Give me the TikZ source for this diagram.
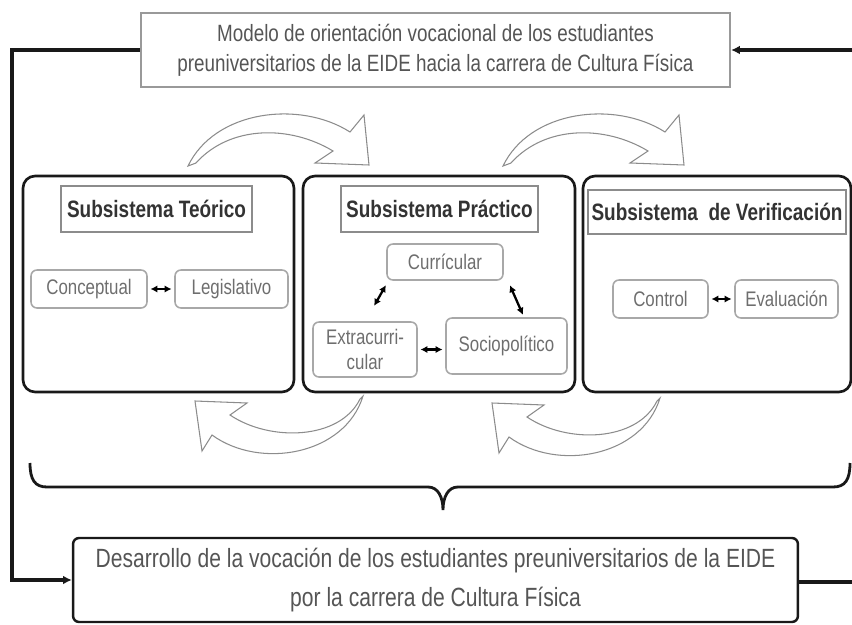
\documentclass[tikz,border=0pt]{standalone}
\usepackage{fontspec}
\setmainfont{Liberation Sans}[FakeStretch=0.8]
\usetikzlibrary{arrows.meta}
\definecolor{txtgray}{HTML}{555555}
\definecolor{itemgray}{HTML}{6E6E6E}
\definecolor{linegray}{HTML}{A8A8A8}
\begin{document}
\begin{tikzpicture}[x=0.02cm, y=-0.02cm,
    bigbox/.style={draw=black!90, line width=1.5pt, rounded corners=0.24cm, minimum height=4.32cm},
    headbox/.style={draw=black!45, line width=1.1pt, font=\fontsize{13.5}{16}\selectfont\bfseries, text=black!80, inner sep=0pt},
    itembox/.style={draw=linegray, line width=0.9pt, rounded corners=0.12cm, font=\fontsize{12}{14}\selectfont, text=itemgray, align=center, inner sep=0pt},
    dblarrow/.style={{Latex[length=4pt,width=4.2pt]}-{Latex[length=4pt,width=4.2pt]}, line width=1.3pt, shorten <=1.5pt, shorten >=1.5pt},
    flow/.style={line width=1.9pt, black!90},
    blockarrow/.style={draw=black!45, line width=0.6pt, fill=white, line join=miter}]
    \useasboundingbox (0,0) rectangle (852,625);

    % Model box at the top and result box at the bottom
    \node[draw=black!40, line width=1.3pt, minimum width=11.78cm, minimum height=1.48cm, align=center,
          text=txtgray, font=\fontsize{13.4}{17}\selectfont] (modelo) at (435.5,50)
        {Modelo de orientación vocacional de los estudiantes\\preuniversitarios de la EIDE hacia la carrera de Cultura Física};
    \node[draw=black!90, line width=1.4pt, rounded corners=0.12cm, minimum width=14.5cm, minimum height=1.68cm, align=center,
          text=txtgray, font=\fontsize{15}{22.5}\selectfont] (desarrollo) at (435.5,580)
        {Desarrollo de la vocación de los estudiantes preuniversitarios de la EIDE\\por la carrera de Cultura Física};

    % The three subsystems
    \node[bigbox, minimum width=5.42cm] (teorico) at (158.5,284) {};
    \node[bigbox, minimum width=5.44cm] (practico) at (439,284) {};
    \node[bigbox, minimum width=5.36cm] (verif) at (717,284) {};

    % Titles of the subsystems
    \node[headbox, minimum width=3.82cm, minimum height=0.92cm] (hteo) at (156.5,209) {Subsistema Teórico};
    \node[headbox, minimum width=3.94cm, minimum height=0.92cm] (hpra) at (439.5,209) {Subsistema Práctico};
    \node[headbox, minimum width=5.16cm, minimum height=0.88cm] (hver) at (717,212) {Subsistema \ de Verificación};

    % Components of each subsystem
    \node[itembox, minimum width=2.32cm, minimum height=0.76cm] (concep) at (89,289) {Conceptual};
    \node[itembox, minimum width=2.26cm, minimum height=0.76cm] (legis) at (231.5,289) {Legislativo};
    \node[itembox, minimum width=2.32cm, minimum height=0.72cm] (curri) at (445,262) {Currícular};
    \node[itembox, minimum width=2.08cm, minimum height=1.1cm] (extra) at (365,349.5) {Extracurri-\\cular};
    \node[itembox, minimum width=2.42cm, minimum height=1.12cm] (socio) at (506.5,346) {Sociopolítico};
    \node[itembox, minimum width=1.9cm, minimum height=0.76cm] (ctrl) at (660.5,299) {Control};
    \node[itembox, minimum width=2.06cm, minimum height=0.76cm] (evalu) at (786.5,299) {Evaluación};

    % Relations between the components
    \draw[dblarrow] (concep) -- (legis);
    \draw[dblarrow] ([shift={(1,2)}]curri.south west) -- ([shift={(-45,-13)}]extra.north east);
    \draw[dblarrow] ([shift={(5,2)}]curri.south east) -- ([xshift=0.35cm]socio.north);
    \draw[dblarrow] (extra.east) -- (extra.east -| socio.west);
    \draw[dblarrow] (ctrl) -- (evalu);

    % Curved arrows above and below the subsystems
    \draw[blockarrow] (188,166) .. controls (215,110) and (300,100) .. (350,132) -- (364,115) -- (369,165)
        -- (315,163) -- (333,151) .. controls (290,125) and (230,125) .. (196,163) -- cycle;
    \draw[blockarrow, shift={(315,0)}] (188,166) .. controls (215,110) and (300,100) .. (350,132) -- (364,115) -- (369,165)
        -- (315,163) -- (333,151) .. controls (290,125) and (230,125) .. (196,163) -- cycle;
    \draw[blockarrow] (363,396) .. controls (345,455) and (260,470) .. (212,435) -- (202,451) -- (195,401)
        -- (247,403) -- (230,415) .. controls (270,442) and (340,440) .. (360,399) -- cycle;
    \draw[blockarrow, shift={(297,2)}] (363,396) .. controls (345,455) and (260,470) .. (212,435) -- (202,451) -- (195,401)
        -- (247,403) -- (230,415) .. controls (270,442) and (340,440) .. (360,399) -- cycle;

    % Brace that joins the subsystems
    \draw[flow, line width=1.6pt] (30,463) .. controls (30,480) and (35,487) .. (47,487) -- (428,487)
        .. controls (438,487) and (443,497) .. (443,510) .. controls (443,497) and (448,487) .. (458,487)
        -- (833,487) .. controls (845,487) and (850,480) .. (850,463);

    % Feedback lines
    \coordinate (rin) at (852,50);
    \coordinate (rout) at (852,582);
    \draw[flow, -{Latex[length=5pt,width=5pt]}] (modelo.west) -| ([xshift=-1.2cm]desarrollo.west) -- (desarrollo.west);
    \draw[flow, -{Latex[length=5pt,width=5pt]}] (rin) -- (modelo.east);
    \draw[flow] (desarrollo.east |- rout) -- (rout);

\end{tikzpicture}
\end{document}
